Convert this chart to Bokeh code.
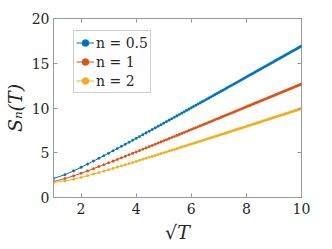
import numpy as np
from bokeh.plotting import figure
from bokeh.models import LinearAxis, Range1d, FixedTicker, Legend, LegendItem
from bokeh.embed import file_html
from bokeh.resources import INLINE

T = list(range(1, 101))
labels = ["n = 0.5", "n = 1", "n = 2"]
colors = ["#0072BD", "#D95319", "#EDB120"]

S_half = [2.12,2.55,2.98,3.37,3.73,4.07,4.38,4.67,4.95,5.22,5.47,5.72,5.95,6.18,6.40,6.61,6.82,7.02,7.22,7.41,
          7.60,7.78,7.96,8.13,8.31,8.48,8.64,8.80,8.96,9.12,9.28,9.43,9.58,9.73,9.87,10.02,10.16,10.30,10.44,10.57,
          10.71,10.84,10.97,11.10,11.23,11.36,11.49,11.61,11.74,11.86,11.98,12.10,12.22,12.34,12.45,12.57,12.68,12.80,12.91,13.02,
          13.13,13.24,13.35,13.46,13.57,13.68,13.78,13.89,13.99,14.10,14.20,14.30,14.40,14.50,14.60,14.70,14.80,14.90,15.00,15.09,
          15.19,15.29,15.38,15.48,15.57,15.66,15.76,15.85,15.94,16.03,16.12,16.22,16.31,16.39,16.48,16.57,16.66,16.75,16.84,16.92]
S_one = [1.79,2.11,2.42,2.71,2.97,3.22,3.45,3.66,3.87,4.06,4.25,4.43,4.60,4.77,4.93,5.09,5.24,5.39,5.54,5.68,
         5.81,5.95,6.08,6.21,6.34,6.46,6.58,6.70,6.82,6.94,7.05,7.16,7.27,7.38,7.49,7.59,7.70,7.80,7.90,8.00,
         8.10,8.20,8.30,8.40,8.49,8.58,8.68,8.77,8.86,8.95,9.04,9.13,9.22,9.30,9.39,9.47,9.56,9.64,9.72,9.81,
         9.89,9.97,10.05,10.13,10.21,10.29,10.37,10.44,10.52,10.60,10.67,10.75,10.82,10.90,10.97,11.04,11.12,11.19,11.26,11.33,
         11.40,11.47,11.54,11.61,11.68,11.75,11.82,11.89,11.96,12.02,12.09,12.16,12.22,12.29,12.35,12.42,12.48,12.55,12.61,12.68]
S_two = [1.68,1.84,2.04,2.24,2.44,2.62,2.79,2.95,3.10,3.25,3.39,3.53,3.66,3.79,3.91,4.03,4.15,4.27,4.38,4.49,
         4.59,4.70,4.80,4.90,5.00,5.09,5.19,5.28,5.37,5.46,5.55,5.64,5.72,5.81,5.89,5.97,6.05,6.13,6.21,6.29,
         6.37,6.44,6.52,6.59,6.67,6.74,6.81,6.88,6.95,7.02,7.09,7.16,7.23,7.30,7.37,7.43,7.50,7.56,7.63,7.69,
         7.76,7.82,7.88,7.94,8.01,8.07,8.13,8.19,8.25,8.31,8.37,8.42,8.48,8.54,8.60,8.66,8.71,8.77,8.82,8.88,
         8.94,8.99,9.05,9.10,9.15,9.21,9.26,9.31,9.37,9.42,9.47,9.52,9.58,9.63,9.68,9.73,9.78,9.83,9.88,9.93]
x_ticks = [2, 4, 6, 8, 10]
y_ticks = [0, 5, 10, 15, 20]

x = np.sqrt(np.array(T, dtype=float))

p = figure(width=330, height=247, output_backend="svg", toolbar_location=None,
           x_range=Range1d(1, 10), y_range=Range1d(0, 20),
           min_border_left=48, min_border_right=29, min_border_top=18, min_border_bottom=50)
p.xgrid.visible = False
p.ygrid.visible = False
p.outline_line_color = "#999999"
p.outline_line_width = 1
p.background_fill_color = "white"
p.border_fill_color = "white"

items = []
for ys, lab, col in zip([S_half, S_one, S_two], labels, colors):
    r1 = p.line(x, ys, line_color=col, line_width=1)
    r2 = p.scatter(x, ys, size=2.6, fill_color=col, line_color=col, line_width=0.3)
    items.append(LegendItem(label=lab, renderers=[r1, r2]))

font = "DejaVu Serif"
def style_axis(ax, show_labels=True):
    ax.axis_line_color = "#999999"
    ax.major_tick_line_color = "#999999"
    ax.major_tick_in = 4
    ax.major_tick_out = 0
    ax.minor_tick_line_color = None
    ax.major_label_text_font = font
    ax.major_label_text_font_size = "14px" if show_labels else "0px"
    ax.major_label_text_color = "#262626" if show_labels else None
    if not show_labels:
        ax.major_label_standoff = 0

p.xaxis.ticker = FixedTicker(ticks=x_ticks)
p.yaxis.ticker = FixedTicker(ticks=y_ticks)
style_axis(p.xaxis[0])
style_axis(p.yaxis[0])
p.xaxis.major_label_standoff = 5
p.yaxis.major_label_standoff = 4
p.xaxis.axis_label = "\u221aT"
p.yaxis.axis_label = "S\u2099(T)"
for ax in (p.xaxis[0], p.yaxis[0]):
    ax.axis_label_text_font = font
    ax.axis_label_text_font_size = "19px"
    ax.axis_label_text_font_style = "italic"
    ax.axis_label_text_color = "#262626"
p.xaxis.axis_label_standoff = 4
p.yaxis.axis_label_standoff = 3

top = LinearAxis(ticker=FixedTicker(ticks=x_ticks))
right = LinearAxis(ticker=FixedTicker(ticks=y_ticks))
style_axis(top, False)
style_axis(right, False)
top.axis_line_color = None
right.axis_line_color = None
p.add_layout(top, "above")
p.add_layout(right, "right")

legend = Legend(items=items, location=(20, 104))
legend.label_text_font = font
legend.label_text_font_size = "14px"
legend.label_text_color = "#262626"
legend.glyph_width = 18
legend.glyph_height = 19
legend.label_height = 19
legend.label_standoff = 2
legend.spacing = 0
legend.padding = 2
legend.margin = 0
legend.border_line_color = "#999999"
legend.border_line_width = 1
legend.background_fill_color = "white"
legend.background_fill_alpha = 1
p.add_layout(legend, "center")

open("out.html", "w").write(file_html(p, INLINE))
